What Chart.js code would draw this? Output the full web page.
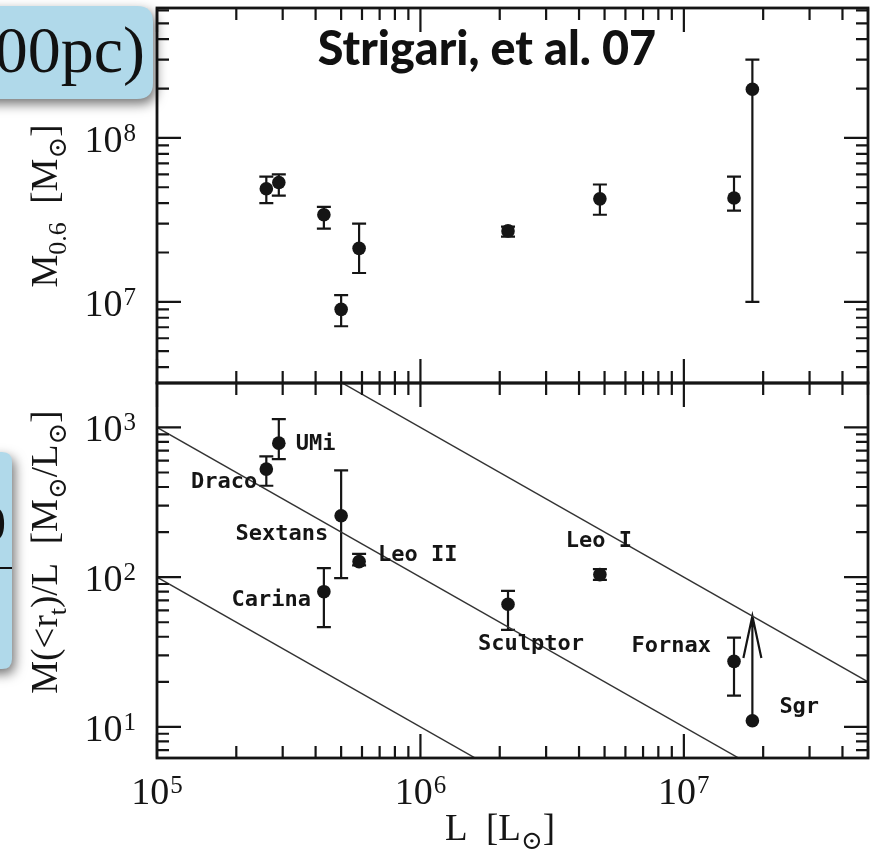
<!DOCTYPE html>
<html>
<head>
<meta charset="utf-8">
<script src="https://cdn.jsdelivr.net/npm/chart.js@4.4.1/dist/chart.umd.min.js"></script>
<style>
  html, body { margin: 0; padding: 0; background: #ffffff; }
  #wrap { position: relative; width: 880px; height: 854px; overflow: hidden; background: #ffffff; }
  #wrap canvas { position: absolute; left: 0; top: 0; }
  #deco { pointer-events: none; }
</style>
</head>
<body>
<div id="wrap">
  <canvas id="massPanel" width="880" height="854"></canvas>
  <canvas id="ratioPanel" width="880" height="854"></canvas>
  <canvas id="deco" width="880" height="854"></canvas>
</div>
<script>
// ---- data: Milky Way dwarf spheroidals ----
const galaxies   = ['Draco', 'UMi', 'Carina', 'Sextans', 'Leo II', 'Sculptor', 'Leo I', 'Fornax', 'Sgr'];
const luminosity = [2.6e5, 2.9e5, 4.3e5, 5.0e5, 5.85e5, 2.15e6, 4.8e6, 1.55e7, 1.82e7];   // L [Lsun]

// mass within 0.6 kpc [Msun] with error range
const mass06   = [4.9e7, 5.35e7, 3.4e7, 9.0e6, 2.12e7, 2.71e7, 4.25e7, 4.3e7, 1.98e8];
const mass06Hi = [5.8e7, 6.0e7,  3.8e7, 1.1e7, 3.0e7,  2.88e7, 5.2e7,  5.8e7, 3.0e8];
const mass06Lo = [4.0e7, 4.45e7, 2.8e7, 7.1e6, 1.5e7,  2.5e7,  3.4e7,  3.6e7, 1.0e7];

// mass-to-light ratio within the tidal radius [Msun/Lsun]
const mlRatio   = [527, 785,  80,   257,  127, 66,   104, 27.4, 11.0];
const mlRatioHi = [640, 1137, 115,  516,  143, 81,   113, 39.5, null];
const mlRatioLo = [408, 614,  46.4, 98.5, 120, 44.5, 96,  16.2, null];
// Sgr only has a lower limit, shown as an arrow up to this value
const mlLowerLimit = [null, null, null, null, null, null, null, null, 55];

// lines of constant total mass, M/L = M / L
const constantMasses = [1e7, 1e8, 1e9];

// axis ranges and labelled decades
const X_MIN = 1e5, X_MAX = 5e7;
const MASS_MIN = 3.2e6, MASS_MAX = 6.2e8;
const RATIO_MIN = 6.2, RATIO_MAX = 1980;
const xTickPowers = [5, 6, 7];
const massTickPowers = [7, 8];
const ratioTickPowers = [1, 2, 3];

// ---- styling ----
const SERIF = '"Liberation Serif", "DejaVu Serif", "DejaVu Sans", serif';
const INK = '#151515';
const TICK_FONT = 38, SUP_FONT = 25, TITLE_FONT = 37;
const MAJOR_LEN = 24, MINOR_LEN = 12;

// label anchoring relative to each bottom-panel marker: [dx, dy, align]
const labelPlacement = {
  'Draco':    [-9, 13, 'right'],
  'UMi':      [17, 1, 'left'],
  'Carina':   [-13, 9, 'right'],
  'Sextans':  [-13, 18, 'right'],
  'Leo II':   [19, -6, 'left'],
  'Sculptor': [23, 40, 'center'],
  'Leo I':    [-1, -33, 'center'],
  'Fornax':   [-23, -15, 'right'],
  'Sgr':      [27, -13, 'left']
};

function logTicks(min, max) {
  const out = [];
  for (let d = Math.floor(Math.log10(min)); d <= Math.ceil(Math.log10(max)); d++) {
    for (let k = 1; k <= 9; k++) {
      const v = k * Math.pow(10, d);
      if (v >= min * 0.999 && v <= max * 1.001) out.push({ v, major: k === 1 });
    }
  }
  return out;
}

function drawPower(ctx, exp, x, y, align) {
  ctx.font = `${TICK_FONT}px ${SERIF}`;
  const wb = ctx.measureText('10').width;
  ctx.font = `${SUP_FONT}px ${SERIF}`;
  const ws = ctx.measureText(String(exp)).width;
  const total = wb + ws + 1;
  const x0 = align === 'center' ? x - total / 2 : align === 'right' ? x - total : x;
  ctx.fillStyle = INK;
  ctx.textAlign = 'left';
  ctx.textBaseline = 'alphabetic';
  ctx.font = `${TICK_FONT}px ${SERIF}`;
  ctx.fillText('10', x0, y);
  ctx.font = `${SUP_FONT}px ${SERIF}`;
  ctx.fillText(String(exp), x0 + wb + 1, y - 11);
}

function drawRich(ctx, segs, x, y, size, rotate) {
  ctx.save();
  ctx.translate(x, y);
  if (rotate) ctx.rotate(-Math.PI / 2);
  const parts = segs.map(s => {
    const f = `${s.sub ? Math.round(size * 0.7) : size}px ${SERIF}`;
    ctx.font = f;
    return { t: s.t, f, w: ctx.measureText(s.t).width, dy: s.sub ? size * 0.24 : 0 };
  });
  const total = parts.reduce((a, p) => a + p.w, 0);
  let cx = -total / 2;
  ctx.fillStyle = INK;
  ctx.textAlign = 'left';
  ctx.textBaseline = 'alphabetic';
  parts.forEach(p => { ctx.font = p.f; ctx.fillText(p.t, cx, p.dy); cx += p.w; });
  ctx.restore();
}

// frame with inward ticks on all four sides, plus labels
function framePlugin(cfg) {
  return {
    id: 'frame',
    afterDraw(chart) {
      const { ctx, chartArea: a, scales } = chart;
      const xs = scales.x, ys = scales.y;
      ctx.save();
      ctx.strokeStyle = INK;
      ctx.lineCap = 'butt';
      ctx.lineWidth = 2.2;
      ctx.beginPath();
      logTicks(xs.min, xs.max).forEach(t => {
        const px = xs.getPixelForValue(t.v);
        const len = t.major ? MAJOR_LEN : MINOR_LEN;
        ctx.moveTo(px, a.bottom); ctx.lineTo(px, a.bottom - len);
        ctx.moveTo(px, a.top); ctx.lineTo(px, a.top + len);
      });
      logTicks(ys.min, ys.max).forEach(t => {
        const py = ys.getPixelForValue(t.v);
        const len = t.major ? MAJOR_LEN : MINOR_LEN;
        ctx.moveTo(a.left, py); ctx.lineTo(a.left + len, py);
        ctx.moveTo(a.right, py); ctx.lineTo(a.right - len, py);
      });
      ctx.stroke();
      ctx.lineWidth = 2.8;
      ctx.strokeRect(a.left, a.top, a.right - a.left, a.bottom - a.top);

      cfg.yPowers.forEach(p => {
        drawPower(ctx, p, 136, ys.getPixelForValue(Math.pow(10, p)) + 14, 'right');
      });
      if (cfg.xPowers) {
        cfg.xPowers.forEach(p => {
          drawPower(ctx, p, xs.getPixelForValue(Math.pow(10, p)), 804, 'center');
        });
      }
      if (cfg.yTitle) drawRich(ctx, cfg.yTitle.segs, cfg.yTitle.x, cfg.yTitle.y, TITLE_FONT, true);
      if (cfg.xTitle) drawRich(ctx, cfg.xTitle.segs, cfg.xTitle.x, cfg.xTitle.y, TITLE_FONT, false);
      ctx.restore();
    }
  };
}

// vertical error bars with caps, and upward arrows for lower limits
function errorBarPlugin(values, lo, hi, limits) {
  return {
    id: 'errorBars',
    beforeDatasetsDraw(chart) {
      const { ctx, scales } = chart;
      ctx.save();
      ctx.strokeStyle = INK;
      ctx.lineWidth = 2.2;
      luminosity.forEach((L, i) => {
        const px = scales.x.getPixelForValue(L);
        if (lo[i] != null && hi[i] != null) {
          const yl = scales.y.getPixelForValue(lo[i]);
          const yh = scales.y.getPixelForValue(hi[i]);
          ctx.beginPath();
          ctx.moveTo(px, yl); ctx.lineTo(px, yh);
          ctx.moveTo(px - 7, yl); ctx.lineTo(px + 7, yl);
          ctx.moveTo(px - 7, yh); ctx.lineTo(px + 7, yh);
          ctx.stroke();
        }
        if (limits && limits[i] != null) {
          const y0 = scales.y.getPixelForValue(values[i]);
          const yt = scales.y.getPixelForValue(limits[i]);
          ctx.beginPath();
          ctx.moveTo(px, y0); ctx.lineTo(px, yt);
          ctx.moveTo(px - 9, yt + 42); ctx.lineTo(px, yt); ctx.lineTo(px + 9, yt + 42);
          ctx.stroke();
        }
      });
      ctx.restore();
    }
  };
}

function galaxyLabelPlugin() {
  return {
    id: 'galaxyLabels',
    afterDatasetsDraw(chart) {
      const { ctx, scales } = chart;
      ctx.save();
      ctx.fillStyle = INK;
      ctx.font = 'bold 22px "DejaVu Sans Mono", monospace';
      ctx.textBaseline = 'middle';
      galaxies.forEach((g, i) => {
        const [dx, dy, align] = labelPlacement[g];
        ctx.textAlign = align;
        ctx.fillText(g, scales.x.getPixelForValue(luminosity[i]) + dx,
                        scales.y.getPixelForValue(mlRatio[i]) + dy);
      });
      ctx.restore();
    }
  };
}

function pointSet(values) {
  return {
    type: 'scatter',
    data: luminosity.map((L, i) => ({ x: L, y: values[i] })),
    pointRadius: 6.8,
    pointBackgroundColor: INK,
    pointBorderColor: INK,
    pointBorderWidth: 0,
    showLine: false
  };
}

function baseOptions(padding, yMin, yMax) {
  return {
    responsive: false,
    animation: false,
    devicePixelRatio: 1,
    events: [],
    layout: { padding },
    plugins: { legend: { display: false }, tooltip: { enabled: false } },
    scales: {
      x: { type: 'logarithmic', min: X_MIN, max: X_MAX, display: false },
      y: { type: 'logarithmic', min: yMin, max: yMax, display: false }
    }
  };
}

// upper panel: mass within 0.6 kpc
new Chart(document.getElementById('massPanel'), {
  type: 'scatter',
  data: { datasets: [pointSet(mass06)] },
  options: baseOptions({ left: 157, right: 12, top: 8, bottom: 471 }, MASS_MIN, MASS_MAX),
  plugins: [
    errorBarPlugin(mass06, mass06Lo, mass06Hi, null),
    framePlugin({
      yPowers: massTickPowers,
      yTitle: { x: 57, y: 206, segs: [
        { t: 'M' }, { t: '0.6', sub: true }, { t: '  [M' }, { t: '\u2299', sub: true }, { t: ']' }
      ] }
    })
  ]
});

// lower panel: mass-to-light ratio
const massLines = constantMasses.map(M => ({
  type: 'line',
  data: [{ x: X_MIN, y: M / X_MIN }, { x: X_MAX, y: M / X_MAX }],
  borderColor: '#333333',
  borderWidth: 1.4,
  pointRadius: 0,
  fill: false,
  tension: 0
}));

new Chart(document.getElementById('ratioPanel'), {
  type: 'scatter',
  data: { datasets: [...massLines, pointSet(mlRatio)] },
  options: baseOptions({ left: 157, right: 12, top: 383, bottom: 96 }, RATIO_MIN, RATIO_MAX),
  plugins: [
    errorBarPlugin(mlRatio, mlRatioLo, mlRatioHi, mlLowerLimit),
    galaxyLabelPlugin(),
    framePlugin({
      yPowers: ratioTickPowers,
      xPowers: xTickPowers,
      yTitle: { x: 57, y: 552, segs: [
        { t: 'M(<r' }, { t: 't', sub: true }, { t: ')/L  [M' }, { t: '\u2299', sub: true },
        { t: '/L' }, { t: '\u2299', sub: true }, { t: ']' }
      ] },
      xTitle: { x: 500, y: 840, segs: [
        { t: 'L  [L' }, { t: '\u2299', sub: true }, { t: ']' }
      ] }
    })
  ]
});

// slide annotations: reference tag and the two blue call-out boxes
(function drawDecorations() {
  const ctx = document.getElementById('deco').getContext('2d');

  function roundBox(x, y, w, h, r) {
    ctx.beginPath();
    ctx.moveTo(x + r, y);
    ctx.lineTo(x + w - r, y);
    ctx.quadraticCurveTo(x + w, y, x + w, y + r);
    ctx.lineTo(x + w, y + h - r);
    ctx.quadraticCurveTo(x + w, y + h, x + w - r, y + h);
    ctx.lineTo(x + r, y + h);
    ctx.quadraticCurveTo(x, y + h, x, y + h - r);
    ctx.lineTo(x, y + r);
    ctx.quadraticCurveTo(x, y, x + r, y);
    ctx.closePath();
  }

  function shadowedBox(x, y, w, h, r) {
    ctx.save();
    ctx.shadowColor = 'rgba(0,0,0,0.55)';
    ctx.shadowBlur = 12;
    ctx.shadowOffsetX = 3;
    ctx.shadowOffsetY = 5;
    ctx.fillStyle = '#b0d9ea';
    roundBox(x, y, w, h, r);
    ctx.fill();
    ctx.restore();
  }

  // upper call-out
  shadowedBox(-30, 6, 183, 93, 16);
  ctx.fillStyle = '#111111';
  ctx.font = `66px ${SERIF}`;
  ctx.textAlign = 'right';
  ctx.textBaseline = 'alphabetic';
  ctx.fillText('M(300pc)', 145, 72);

  // lower call-out
  shadowedBox(-30, 452, 42, 217, 10);
  ctx.save();
  ctx.beginPath();
  ctx.rect(0, 452, 12, 217);
  ctx.clip();
  ctx.font = `50px ${SERIF}`;
  ctx.textAlign = 'right';
  ctx.fillText('0', 6, 540);
  ctx.fillRect(0, 567, 12, 2);
  ctx.restore();

  // reference tag, fitted to its slot above the data
  const tag = 'Strigari, et al. 07';
  const tagWidth = 338;
  ctx.font = '900 32px Lato, "Open Sans", sans-serif';
  const size = 32 * tagWidth / ctx.measureText(tag).width;
  ctx.font = `900 ${size.toFixed(1)}px Lato, "Open Sans", sans-serif`;
  ctx.fillStyle = '#111111';
  ctx.textAlign = 'center';
  ctx.fillText(tag, 487, 65);
})();
</script>
</body>
</html>
